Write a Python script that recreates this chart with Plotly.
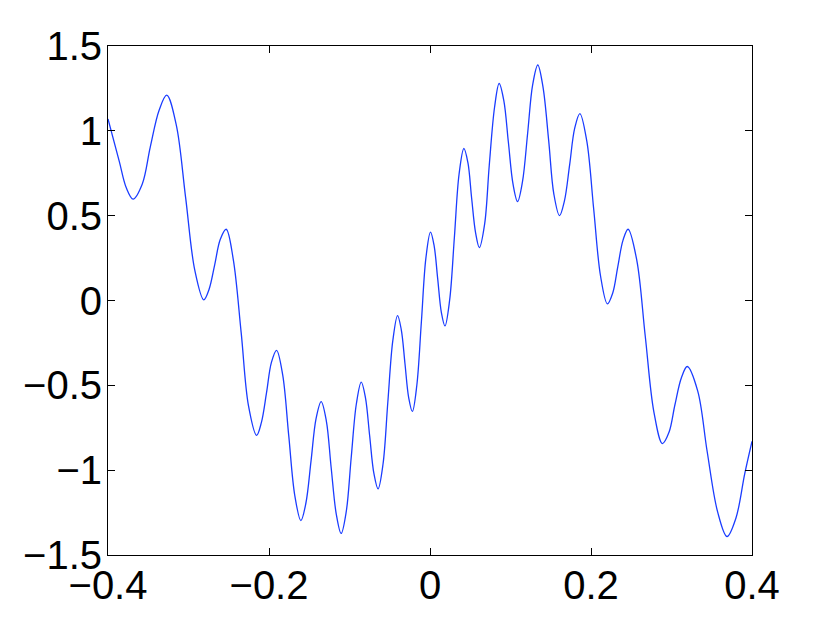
import plotly.graph_objects as go

# points: extrema, mid-slope crossings and the shoulders between them
t = [-0.4, -0.386, -0.3774, -0.3688, -0.3574, -0.3475, -0.3365, -0.327, -0.3152, -0.3036,
     -0.2922, -0.281, -0.2745, -0.2674, -0.2606, -0.2532, -0.2444, -0.2346, -0.2255, -0.2154,
     -0.2094, -0.2031, -0.197, -0.1906, -0.183, -0.1755, -0.1679, -0.1604, -0.1542, -0.1478,
     -0.1416, -0.1352, -0.1288, -0.1228, -0.1164, -0.1104, -0.104, -0.0979, -0.0915, -0.0854,
     -0.0802, -0.075, -0.0697, -0.0645, -0.0583, -0.0524, -0.0462, -0.0403, -0.0357, -0.0311,
     -0.0265, -0.0219, -0.0164, -0.0107, -0.0051, 0.0006, 0.0051, 0.0096, 0.0141, 0.0186,
     0.0244, 0.0303, 0.0361, 0.0421, 0.0471, 0.0517, 0.0567, 0.0613, 0.0679, 0.0736,
     0.0802, 0.0859, 0.0917, 0.0974, 0.1032, 0.1088, 0.1149, 0.1213, 0.1275, 0.1339,
     0.1403, 0.1474, 0.1538, 0.1609, 0.167, 0.1735, 0.1797, 0.1862, 0.1948, 0.2033,
     0.2119, 0.2204, 0.227, 0.2333, 0.2398, 0.2461, 0.2569, 0.2674, 0.2782, 0.2887,
     0.2969, 0.3042, 0.3123, 0.3196, 0.3326, 0.3443, 0.3573, 0.369, 0.38, 0.391,
     0.4]
signal = [1.07, 0.82, 0.666, 0.598, 0.687, 0.904, 1.121, 1.21, 1.035, 0.608,
          0.179, 0.004, 0.065, 0.212, 0.36, 0.42, 0.243, -0.188, -0.62, -0.795,
          -0.718, -0.545, -0.365, -0.294, -0.439, -0.795, -1.151, -1.297, -1.195, -0.947,
          -0.698, -0.596, -0.709, -0.984, -1.26, -1.373, -1.243, -0.927, -0.61, -0.481,
          -0.572, -0.796, -1.019, -1.11, -0.962, -0.6, -0.237, -0.089, -0.171, -0.371,
          -0.572, -0.654, -0.501, -0.125, 0.25, 0.403, 0.323, 0.126, -0.07, -0.15,
          0.002, 0.373, 0.744, 0.896, 0.812, 0.604, 0.397, 0.312, 0.452, 0.796,
          1.139, 1.279, 1.178, 0.931, 0.684, 0.583, 0.7, 0.986, 1.271, 1.388,
          1.26, 0.944, 0.629, 0.5, 0.587, 0.801, 1.014, 1.102, 0.939, 0.541,
          0.143, -0.02, 0.044, 0.2, 0.356, 0.42, 0.237, -0.211, -0.659, -0.843,
          -0.777, -0.616, -0.455, -0.389, -0.534, -0.89, -1.246, -1.391, -1.283, -1.02,
          -0.83]

x_ticks = [-0.4, -0.2, 0, 0.2, 0.4]
x_labels = ['\u22120.4', '\u22120.2', '0', '0.2', '0.4']
y_ticks = [-1.5, -1, -0.5, 0, 0.5, 1, 1.5]
y_labels = ['\u22121.5', '\u22121', '\u22120.5', '0', '0.5', '1', '1.5']

fig = go.Figure()
fig.add_trace(go.Scatter(
    x=t, y=signal,
    mode='lines',
    line=dict(color='#1a3cff', width=1.3, shape='spline', smoothing=1.0),
    showlegend=False
))

font = dict(family='Liberation Sans, Arial, Helvetica', size=40, color='black')
axis_style = dict(
    showgrid=False, zeroline=False, automargin=False,
    showline=True, linecolor='black', linewidth=1, mirror='ticks',
    ticks='inside', ticklen=7, tickcolor='black', tickwidth=1,
    tickfont=font
)

fig.update_xaxes(range=[-0.4, 0.4], tickvals=x_ticks, ticktext=x_labels,
                 ticklabelstandoff=-5, **axis_style)
fig.update_yaxes(range=[-1.5, 1.5], tickvals=y_ticks, ticktext=y_labels,
                 ticklabelstandoff=-3, **axis_style)

# the page body adds an 8px margin, so the figure is 8px smaller on each side
fig.update_layout(
    width=822, height=616,
    margin=dict(l=100, r=78, t=38, b=69),
    plot_bgcolor='white', paper_bgcolor='white'
)

fig.write_html("out.html")
